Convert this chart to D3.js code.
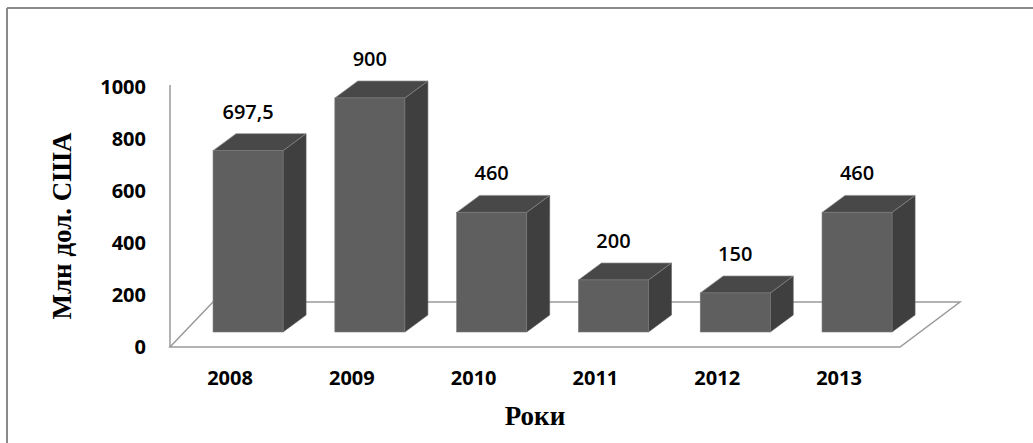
<!DOCTYPE html>
<html>
<head>
<meta charset="utf-8">
<script src="https://cdn.jsdelivr.net/npm/d3@7"></script>
<style>
  html, body { margin: 0; padding: 0; background: #fff; }
  svg { display: block; }
</style>
</head>
<body>
<svg id="chart" width="1033" height="443"></svg>
<script>
// ---- data ----
const categories = ["2008", "2009", "2010", "2011", "2012", "2013"];
const values = [697.5, 900, 460, 200, 150, 460];
const valueLabels = ["697,5", "900", "460", "200", "150", "460"];
const yTicks = [0, 200, 400, 600, 800, 1000];
const yTitle = "Млн дол. США";
const xTitle = "Роки";

const svg = d3.select("#chart");

// outer frame (top & left lines)
svg.append("line").attr("x1", 7).attr("y1", 8).attr("x2", 1033).attr("y2", 8)
  .attr("stroke", "#8a8a8a").attr("stroke-width", 2);
svg.append("line").attr("x1", 7).attr("y1", 8).attr("x2", 7).attr("y2", 443)
  .attr("stroke", "#8a8a8a").attr("stroke-width", 2);

// scales
const x = d3.scaleBand().domain(categories).range([176.5, 928.6]).paddingInner(0.425).paddingOuter(0.3);
// bar base (mid-depth plane) value scale
const yBar = d3.scaleLinear().domain([0, 1000]).range([332, 72]);
// front axis scale
const yAxis = d3.scaleLinear().domain([0, 1000]).range([347, 87]);

const depthDx = 23, depthDy = -17;

// floor parallelogram
const floor = [[170, 347], [900, 347], [960, 302], [213, 302]];
svg.append("path")
  .attr("d", "M" + floor.map(p => p.join(",")).join("L") + "Z")
  .attr("fill", "none").attr("stroke", "#9a9a9a").attr("stroke-width", 1.5);
// vertical axis line
svg.append("line").attr("x1", 170).attr("x2", 170).attr("y1", yAxis(1000) - 2).attr("y2", yAxis(0))
  .attr("stroke", "#9a9a9a").attr("stroke-width", 1.5);

// bars
const bars = svg.append("g");
categories.forEach((c, i) => {
  const x0 = x(c), w = x.bandwidth();
  const yb = yBar(0), yt = yBar(values[i]);
  const g = bars.append("g");
  // side
  g.append("path")
    .attr("d", `M${x0 + w},${yt}L${x0 + w + depthDx},${yt + depthDy}L${x0 + w + depthDx},${yb + depthDy}L${x0 + w},${yb}Z`)
    .attr("fill", "#3f3f3f").attr("stroke", "#5a5a5a").attr("stroke-width", 0.6);
  // top
  g.append("path")
    .attr("d", `M${x0},${yt}L${x0 + depthDx},${yt + depthDy}L${x0 + w + depthDx},${yt + depthDy}L${x0 + w},${yt}Z`)
    .attr("fill", "#484848").attr("stroke", "#8c8c8c").attr("stroke-width", 0.7);
  // front
  g.append("rect")
    .attr("x", x0).attr("y", yt).attr("width", w).attr("height", yb - yt)
    .attr("fill", "#5f5f5f").attr("stroke", "#7a7a7a").attr("stroke-width", 0.6);
  // value label
  svg.append("text")
    .attr("x", x0 + w / 2).attr("y", yt - 32)
    .attr("text-anchor", "middle")
    .attr("font-family", "'Open Sans', sans-serif").attr("font-weight", 600)
    .attr("font-size", 20).attr("fill", "#000")
    .text(valueLabels[i]);
});

// y tick labels
svg.append("g").selectAll("text").data(yTicks).join("text")
  .attr("x", 146).attr("y", d => yAxis(d) + 7)
  .attr("text-anchor", "end")
  .attr("font-family", "'Open Sans', sans-serif").attr("font-weight", 700)
  .attr("font-size", 20).attr("fill", "#000")
  .text(d => d);

// x tick labels
svg.append("g").selectAll("text").data(categories).join("text")
  .attr("x", d => x(d) + x.bandwidth() / 2 - 18).attr("y", 385)
  .attr("text-anchor", "middle")
  .attr("font-family", "'Open Sans', sans-serif").attr("font-weight", 700)
  .attr("font-size", 20).attr("fill", "#000")
  .text(d => d);

// axis titles
svg.append("text")
  .attr("transform", "translate(71,226) rotate(-90)")
  .attr("text-anchor", "middle")
  .attr("font-family", "'Liberation Serif', 'Times New Roman', serif").attr("font-weight", 700)
  .attr("font-size", 27).attr("fill", "#000")
  .text(yTitle);
svg.append("text")
  .attr("x", 535).attr("y", 425)
  .attr("text-anchor", "middle")
  .attr("font-family", "'Liberation Serif', 'Times New Roman', serif").attr("font-weight", 700)
  .attr("font-size", 27).attr("fill", "#000")
  .text(xTitle);
</script>
</body>
</html>
